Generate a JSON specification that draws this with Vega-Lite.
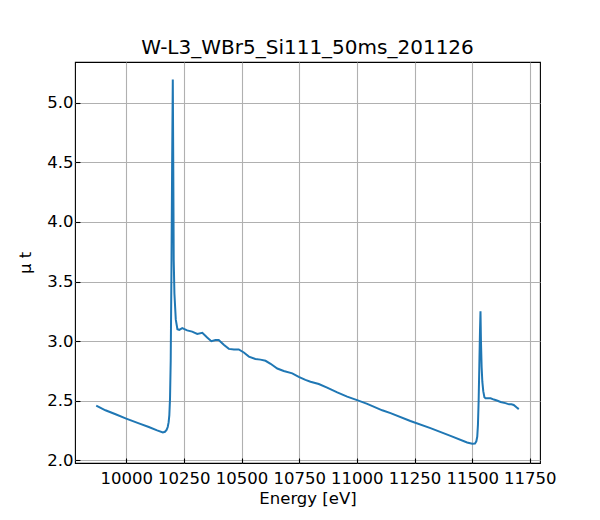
{
  "$schema": "https://vega.github.io/schema/vega-lite/v6.json",
  "width": 465,
  "height": 401,
  "autosize": {"type": "none"},
  "padding": {"left": 75, "top": 62, "right": 60, "bottom": 57},
  "background": "white",
  "title": {
    "text": "W-L3_WBr5_Si111_50ms_201126",
    "font": "DejaVu Sans",
    "fontSize": 20,
    "fontWeight": "normal",
    "color": "black",
    "anchor": "middle",
    "baseline": "alphabetic",
    "offset": 8,
    "dy": 20
  },
  "config": {
    "view": {"stroke": "black", "strokeWidth": 1.1},
    "axis": {
      "labelFont": "DejaVu Sans",
      "titleFont": "DejaVu Sans",
      "labelFontSize": 16.5,
      "titleFontSize": 16.5,
      "titleFontWeight": "normal",
      "labelColor": "black",
      "titleColor": "black",
      "domain": false,
      "grid": true,
      "gridColor": "#b0b0b0",
      "gridWidth": 1.1,
      "tickColor": "black",
      "tickWidth": 1.1,
      "tickSize": -5
    }
  },
  "data": {
    "values": [
      {"energy": 9870, "mut": 2.46},
      {"energy": 9910, "mut": 2.42},
      {"energy": 9954, "mut": 2.387},
      {"energy": 10000, "mut": 2.35},
      {"energy": 10055, "mut": 2.31},
      {"energy": 10098, "mut": 2.28},
      {"energy": 10134, "mut": 2.252},
      {"energy": 10159, "mut": 2.235},
      {"energy": 10168, "mut": 2.24},
      {"energy": 10175, "mut": 2.255},
      {"energy": 10180, "mut": 2.28},
      {"energy": 10184, "mut": 2.32},
      {"energy": 10187, "mut": 2.38},
      {"energy": 10190, "mut": 2.52},
      {"energy": 10193, "mut": 2.84},
      {"energy": 10196, "mut": 3.55},
      {"energy": 10199, "mut": 4.45},
      {"energy": 10202, "mut": 5.194},
      {"energy": 10204, "mut": 4.5},
      {"energy": 10206, "mut": 3.68},
      {"energy": 10209, "mut": 3.4},
      {"energy": 10215, "mut": 3.18},
      {"energy": 10222, "mut": 3.1},
      {"energy": 10230, "mut": 3.095},
      {"energy": 10243, "mut": 3.11},
      {"energy": 10264, "mut": 3.09},
      {"energy": 10286, "mut": 3.08},
      {"energy": 10308, "mut": 3.06},
      {"energy": 10330, "mut": 3.07},
      {"energy": 10351, "mut": 3.03},
      {"energy": 10369, "mut": 3.0},
      {"energy": 10387, "mut": 3.01},
      {"energy": 10401, "mut": 3.01},
      {"energy": 10423, "mut": 2.97},
      {"energy": 10445, "mut": 2.935},
      {"energy": 10467, "mut": 2.93},
      {"energy": 10488, "mut": 2.93},
      {"energy": 10510, "mut": 2.905},
      {"energy": 10532, "mut": 2.87},
      {"energy": 10560, "mut": 2.85},
      {"energy": 10582, "mut": 2.845},
      {"energy": 10604, "mut": 2.835},
      {"energy": 10626, "mut": 2.81},
      {"energy": 10655, "mut": 2.77},
      {"energy": 10683, "mut": 2.75},
      {"energy": 10720, "mut": 2.73},
      {"energy": 10748, "mut": 2.7},
      {"energy": 10777, "mut": 2.675},
      {"energy": 10799, "mut": 2.66},
      {"energy": 10835, "mut": 2.64},
      {"energy": 10871, "mut": 2.61},
      {"energy": 10915, "mut": 2.57},
      {"energy": 10958, "mut": 2.535},
      {"energy": 11001, "mut": 2.505},
      {"energy": 11045, "mut": 2.474},
      {"energy": 11110, "mut": 2.42},
      {"energy": 11146, "mut": 2.396},
      {"energy": 11232, "mut": 2.33},
      {"energy": 11319, "mut": 2.27},
      {"energy": 11406, "mut": 2.205},
      {"energy": 11478, "mut": 2.15},
      {"energy": 11500, "mut": 2.14},
      {"energy": 11512, "mut": 2.142},
      {"energy": 11518, "mut": 2.16},
      {"energy": 11522, "mut": 2.2},
      {"energy": 11525, "mut": 2.3},
      {"energy": 11528, "mut": 2.5},
      {"energy": 11531, "mut": 2.8},
      {"energy": 11534, "mut": 3.1},
      {"energy": 11536, "mut": 3.25},
      {"energy": 11538, "mut": 3.0},
      {"energy": 11541, "mut": 2.78},
      {"energy": 11544, "mut": 2.66},
      {"energy": 11548, "mut": 2.58},
      {"energy": 11553, "mut": 2.53},
      {"energy": 11558, "mut": 2.52},
      {"energy": 11570, "mut": 2.52},
      {"energy": 11580, "mut": 2.52},
      {"energy": 11594, "mut": 2.51},
      {"energy": 11610, "mut": 2.5},
      {"energy": 11623, "mut": 2.49},
      {"energy": 11644, "mut": 2.48},
      {"energy": 11660, "mut": 2.47},
      {"energy": 11670, "mut": 2.47},
      {"energy": 11680, "mut": 2.465},
      {"energy": 11692, "mut": 2.445},
      {"energy": 11702, "mut": 2.43}
    ]
  },
  "mark": {"type": "line", "color": "#1f77b4", "strokeWidth": 2, "clip": true},
  "encoding": {
    "x": {
      "field": "energy",
      "type": "quantitative",
      "scale": {"domain": [9778, 11794], "nice": false, "zero": false},
      "axis": {
        "title": "Energy [eV]",
        "values": [10000, 10250, 10500, 10750, 11000, 11250, 11500, 11750],
        "format": "d",
        "labelPadding": 12,
        "titlePadding": 4
      }
    },
    "y": {
      "field": "mut",
      "type": "quantitative",
      "scale": {"domain": [1.978, 5.341], "nice": false, "zero": false},
      "axis": {
        "title": "μ t",
        "values": [2.0, 2.5, 3.0, 3.5, 4.0, 4.5, 5.0],
        "format": ".1f",
        "labelPadding": 7,
        "titlePadding": 13
      }
    }
  }
}
